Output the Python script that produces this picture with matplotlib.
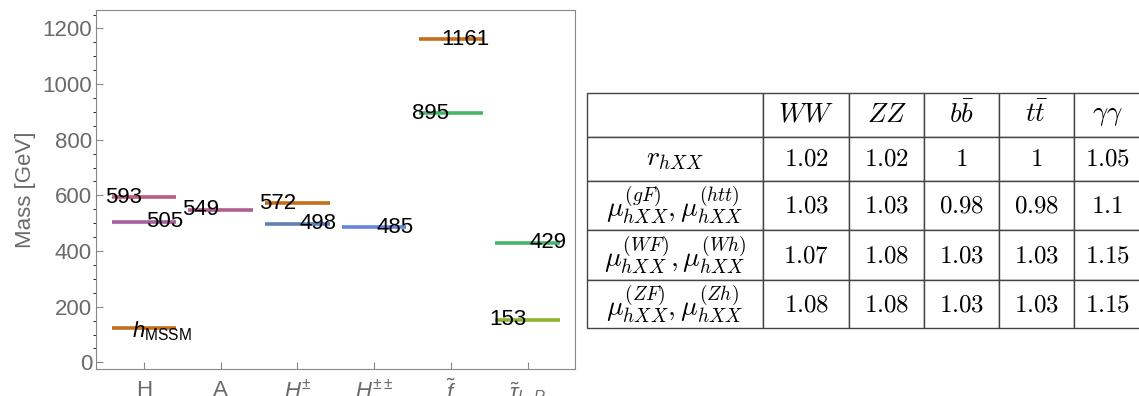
import numpy as np
import matplotlib
matplotlib.use('Agg')
from matplotlib import pyplot as plt

plt.rcParams['font.family'] = ['Liberation Sans', 'DejaVu Sans']
plt.rcParams['mathtext.fontset'] = 'custom'
plt.rcParams['mathtext.rm'] = 'Liberation Sans'
plt.rcParams['mathtext.it'] = 'Liberation Sans:italic'
plt.rcParams['mathtext.bf'] = 'Liberation Sans:bold'

# mass spectrum
particles = ['H', 'A', r'$H^{\pm}$', r'$H^{\pm\pm}$', r'$\tilde{f}$', r'$\tilde{\tau}_{L,R}$']
level_col = [0, 0, 0, 1, 2, 2, 3, 4, 4, 5, 5]
level_mass = [593, 505, 125, 549, 572, 498, 485, 1161, 895, 429, 153]
level_text = ['593', '505', r'$h_{\mathrm{MSSM}}$', '549', '572', '498', '485',
              '1161', '895', '429', '153']

# table of signal strengths
channels = [r'$WW$', r'$ZZ$', r'$b\bar{b}$', r'$t\bar{t}$', r'$\gamma\gamma$']
row_names = [r'$r_{hXX}$',
             r'$\mu^{(gF)}_{hXX},\mu^{(htt)}_{hXX}$',
             r'$\mu^{(WF)}_{hXX},\mu^{(Wh)}_{hXX}$',
             r'$\mu^{(ZF)}_{hXX},\mu^{(Zh)}_{hXX}$']
r_hXX = [1.02, 1.02, 1, 1, 1.05]
mu_gF = [1.03, 1.03, 0.98, 0.98, 1.1]
mu_WF = [1.07, 1.08, 1.03, 1.03, 1.15]
mu_ZF = [1.08, 1.08, 1.03, 1.03, 1.15]

# styles
level_colors = ['#BC5B80', '#A5609D', '#C56E1A', '#B05E8F', '#C56E1A', '#5E81B5',
                '#6685D9', '#C56E1A', '#47B66D', '#47B66D', '#8FB032']
label_side = ['left', 'right', 'mid', 'left', 'left', 'right', 'right',
              'right', 'left', 'right', 'left']
half = 0.42
gray = '#6a6a6a'

fig = plt.figure(figsize=(11.39, 3.96), dpi=100)
ax = fig.add_axes([0.0845, 0.068, 0.4205, 0.9066])

for c, m, t, col, side in zip(level_col, level_mass, level_text, level_colors, label_side):
    xc = c + 1
    ax.plot([xc - half, xc + half], [m, m], color=col, lw=2.6, solid_capstyle='butt')
    if side == 'left':
        ax.text(xc - 0.5, m, t, ha='left', va='center', fontsize=16)
    elif side == 'right':
        ax.text(xc + 0.51, m, t, ha='right', va='center', fontsize=16)
    else:
        ax.text(xc - 0.16, m - 12, t, ha='left', va='center', fontsize=16)

ax.set_xlim(0.38, 6.62)
ax.set_ylim(-24, 1266)
ax.set_xticks(np.arange(1, len(particles) + 1))
ax.set_xticklabels(particles)
ax.set_yticks(np.arange(0, 1201, 200))
ax.set_yticks(np.arange(0, 1251, 50), minor=True)
ax.tick_params(axis='both', direction='in', colors='#888888', labelcolor=gray, labelsize=16)
ax.tick_params(axis='y', which='major', length=5, pad=3)
ax.tick_params(axis='y', which='minor', length=2.5)
ax.tick_params(axis='x', length=5, pad=8)
for s in ax.spines.values():
    s.set_color('#888888')
ax.set_ylabel('Mass [GeV]', color=gray, fontsize=16, labelpad=5)

# table
tax = fig.add_axes([0.5151, 0.1717, 0.4860, 0.5927])
tax.axis('off')
cell_text = [[''] + channels]
for name, vals in zip(row_names, [r_hXX, mu_gF, mu_WF, mu_ZF]):
    cell_text.append([name] + [r'$%g$' % v for v in vals])

col_w = [176.6, 86, 74.7, 75.3, 75, 66]
row_h = [43.4, 44.3, 49, 50, 48]
tab = tax.table(cellText=cell_text, cellLoc='center', bbox=[0, 0, 1, 1])
tab.auto_set_font_size(False)
for (i, j), cell in tab.get_celld().items():
    cell.set_width(col_w[j] / sum(col_w))
    cell.set_height(row_h[i] / sum(row_h))
    cell.set_edgecolor('#444444')
    cell.set_linewidth(1.0)
    txt = cell.get_text()
    txt.set_math_fontfamily('cm')
    if i == 0:
        txt.set_fontsize(19.5)
    elif j == 0:
        txt.set_fontsize(20)
    else:
        txt.set_fontsize(18)

fig.savefig('out.png', dpi=100)
